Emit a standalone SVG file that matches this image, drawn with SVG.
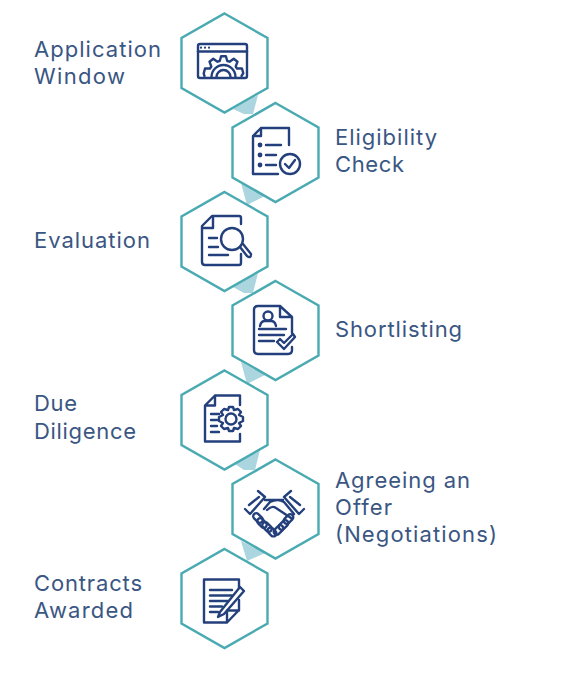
<svg xmlns="http://www.w3.org/2000/svg" width="586" height="682" viewBox="0 0 586 682">
<style>
.hex{fill:#fff;stroke:#4aaab1;stroke-width:2.4;stroke-linejoin:miter}
.tab{fill:#abd6df;stroke:none}
.ic{fill:none;stroke:#24407c;stroke-width:2.400;stroke-linecap:round;stroke-linejoin:round}
.dot{fill:#24407c}
text{font-family:"Inter","Liberation Sans",sans-serif;font-size:22px;fill:#3a5683;font-weight:400}
</style>
<defs>
<polygon id="hx" class="hex" points="0,-49.5 43,-25 43,25 0,49.5 -43,25 -43,-25"/>
</defs>
<rect width="586" height="682" fill="#fff"/>
<g id="connectors">
<polygon class="tab" points="233,109 258,95 253,114 244,114"/>
<polygon class="tab" points="241,183 265,196 247,205"/>
<polygon class="tab" points="233,287 258,273 253,293 244,293"/>
<polygon class="tab" points="241,362 265,375 247,384"/>
<polygon class="tab" points="235,464 260,450 255,470 244,470"/>
<polygon class="tab" points="241,541 265,553 247,561"/>
</g>
<g id="node-application-window">
<use href="#hx" x="224.500" y="63"/>
<g class="ic"><rect x="198" y="44" width="49" height="34" rx="2"/><path d="M198 51.500H247"/>
<path d="M204.500 76L203.700 73.600L205 68.500L210 68.500L211.300 66.500L209.500 61.700L213.300 58.800L217.400 61.700L219.750 61L221.100 56.200H225.900L227.250 61L229.600 61.700L233.700 58.800L237.500 61.700L235.700 66.500L237 68.500L242 68.500L243.300 73.200L241.500 76"/>
<path d="M211.500 77A12 12 0 0 1 235.500 77"/><path d="M216.500 77A7 7 0 0 1 230.500 77"/></g>
<circle class="dot" cx="201" cy="47.700" r="1.100"/><circle class="dot" cx="205" cy="47.700" r="1.100"/><circle class="dot" cx="209" cy="47.700" r="1.100"/>
<text x="34" y="57" textLength="127">Application</text><text x="34" y="84" textLength="91">Window</text>
</g>
<g id="node-eligibility-check">
<use href="#hx" x="275.500" y="152.500"/>
<g class="ic"><path d="M261 128H289V145M278 174H253V136L261 128V136H253"/>
<path d="M266 145H281M266 155H276M266 165H276"/><circle cx="290" cy="164" r="10"/><path d="M285 164L289 168L295 160"/></g>
<circle class="dot" cx="260" cy="145" r="2.400"/><circle class="dot" cx="260" cy="155" r="2.400"/><circle class="dot" cx="260" cy="165" r="2.400"/>
<text x="335" y="145" textLength="102">Eligibility</text><text x="335" y="172" textLength="69">Check</text>
</g>
<g id="node-evaluation">
<use href="#hx" x="224.500" y="241.500"/>
<g class="ic"><path d="M241 224V218Q241 216 239 216H212L202 226V262Q202 265 205 265H239Q241 265 241 263V254"/><path d="M202 228H213V217"/>
<path d="M209 238H217M209 247H218M209 255H228"/><circle cx="232" cy="239" r="11"/><path d="M240 247L247 256Q251 259 251 254L243 244"/></g>
<text x="34" y="248" textLength="116">Evaluation</text>
</g>
<g id="node-shortlisting">
<use href="#hx" x="275.500" y="330.500"/>
<g class="ic"><path d="M280 306H258Q254 306 254 310V350Q254 354 258 354H288Q292 354 292 350V347M292 333V317L280 306V317H292"/>
<circle cx="268" cy="316" r="4.500"/><path d="M260 326Q261 321 265 321H271Q275 321 276 326"/><path d="M259 329H286M259 335H284M259 341H274"/><path d="M277 342L280 339L284 343L293 334L295 337L284 349Z"/></g>
<text x="335" y="337" textLength="127">Shortlisting</text>
</g>
<g id="node-due-diligence">
<use href="#hx" x="224.500" y="420"/>
<g class="ic"><path d="M215 395.500H240V405M240 434V441.500H205V405.500L215 395.500V405.500H205"/>
<path d="M211 414H219M211 420H217M211 426H217M211 432H219"/>
<circle cx="231" cy="419" r="5.500"/><path d="M229 407H233L234 410L238 409L241 412L239 415L243 417V421L239 423L241 426L238 429L234 428L233 431H229L228 428L224 429L221 426L223 423L219 421V417L223 415L221 412L224 409L228 410Z"/></g>
<text x="34" y="411" textLength="43">Due</text><text x="34" y="439" textLength="102">Diligence</text>
</g>
<g id="node-agreeing-an-offer">
<use href="#hx" x="275.500" y="509"/>
<g class="ic"><path d="M245 509L250 514L265 497M258 491L265 497M249 505L259 497"/>
<path d="M304 509L299 514L284 497M291 491L284 497M300 505L290 497"/>
<path d="M265 500H283M264 509L270 502Q278 498 284 502L294 514M267 510Q272 505 276 508L291 518"/>
<rect x="252.500" y="515" width="11" height="6" rx="3" transform="rotate(45 258 518)"/>
<rect x="256.500" y="520" width="11" height="6" rx="3" transform="rotate(45 262 523)"/>
<rect x="261.500" y="524" width="11" height="6" rx="3" transform="rotate(45 267 527)"/>
<rect x="267" y="529" width="10" height="6" rx="3" transform="rotate(45 272 532)"/>
<rect x="283" y="516" width="11" height="6" rx="3" transform="rotate(-45 288.500 519)"/>
<rect x="278" y="522" width="11" height="6" rx="3" transform="rotate(-45 283.500 525)"/>
<rect x="273" y="527" width="11" height="6" rx="3" transform="rotate(-45 278.500 530)"/></g>
<text x="335" y="488" textLength="135">Agreeing an</text><text x="335" y="515" textLength="57">Offer</text><text x="335" y="542" textLength="162">(Negotiations)</text>
</g>
<g id="node-contracts-awarded">
<use href="#hx" x="224.500" y="598.500"/>
<g class="ic"><path d="M239 588V579.500H204V622.500H227L239 610V600M227 622.500V610.500H239"/>
<path d="M210 590H232M210 595.500H232M210 601H228M210 606.500H222M210 612H218"/>
<path d="M220 612L240 587L244 591L224 614L218 617Z"/></g>
<text x="34" y="591" textLength="108">Contracts</text><text x="34" y="618" textLength="99">Awarded</text>
</g>
</svg>
